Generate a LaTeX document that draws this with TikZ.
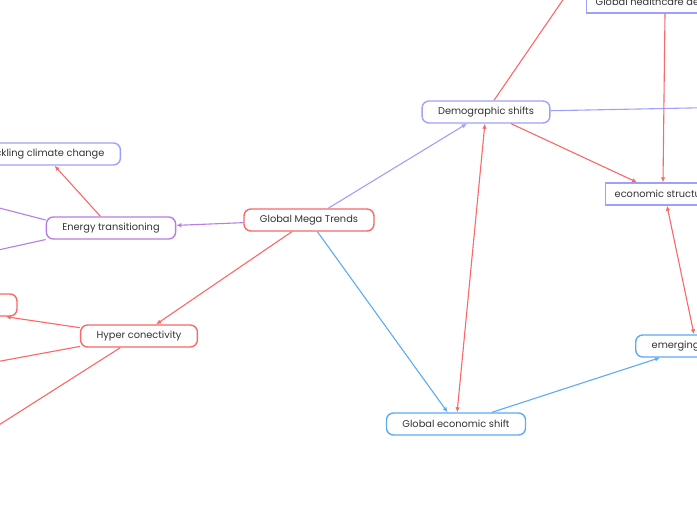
\documentclass[tikz,border=0pt]{standalone}
\usepackage{fontspec}
\setmainfont{Poppins}
\usetikzlibrary{arrows.meta,positioning}
\definecolor{MapRed}{RGB}{250,104,104}
\definecolor{MapLilac}{RGB}{160,160,250}
\definecolor{MapPurple}{RGB}{185,125,228}
\definecolor{MapBlue}{RGB}{92,172,245}
\definecolor{MapText}{RGB}{51,51,51}
\tikzset{
  topic/.style={draw,rounded corners=7pt,line width=1.4pt,fill=white,
    minimum height=22pt,inner xsep=16pt,text=MapText,font=\fontsize{9.8}{12}\selectfont},
  sqtopic/.style={draw,line width=1.4pt,fill=white,
    minimum height=22pt,inner xsep=9pt,text=MapText,font=\fontsize{9.8}{12}\selectfont},
  maplink/.style={line width=1.1pt},
  maparrow/.style={maplink,-{Latex[length=5pt,width=4.5pt]}},
  mapboth/.style={maplink,{Latex[length=5pt,width=4.5pt]}-{Latex[length=5pt,width=4.5pt]}},
}

\begin{document}
\begin{tikzpicture}[x=1pt,y=-1pt]
  \useasboundingbox[fill=white] (0,0) rectangle (697,520);
  % topics
  \node[topic,draw=MapRed] (mega) at (309,220) {Global Mega Trends};
  \node[topic,draw=MapLilac] (demo) at (486,112) {Demographic shifts};
  \node[topic,draw=MapPurple] (energy) at (111,228) {Energy transitioning};
  \node[topic,draw=MapLilac] (tackle) at (44,154) {Tackling climate change};
  \node[topic,draw=MapRed] (hyper) at (139,336) {Hyper conectivity};
  \node[topic,draw=MapRed,minimum width=220pt] (redleft) at (-93,305) {};
  \node[topic,draw=MapBlue] (ges) at (456,424) {Global economic shift};
  \node[topic,draw=MapBlue,anchor=west] (emerg) at (635,346) {emerging markets};
  \node[sqtopic,draw=MapLilac,anchor=west] (econ) at (605,194) {economic structure};
  \node[sqtopic,draw=MapLilac,anchor=west] (health) at (586,2) {Global healthcare demand};
  % free ends
  \coordinate (demoup) at (580,-25);
  \coordinate (demoright) at (740,107);
  \coordinate (energyl1) at (-20,203);
  \coordinate (energyl2) at (-20,254);
  \coordinate (hyperl1) at (-10,363);
  \coordinate (hyperl2) at (-20,437);
  % links
  \draw[maparrow,MapLilac] (mega) -- (demo);
  \draw[maparrow,MapPurple] (mega) -- (energy);
  \draw[maparrow,MapRed] (mega) -- (hyper);
  \draw[maparrow,MapBlue] (mega) -- (ges);
  \draw[maparrow,MapBlue] (ges) -- ([xshift=25pt]emerg.south west);
  \draw[mapboth,MapRed] (demo) -- (ges);
  \draw[maparrow,MapRed] (demo) -- ([xshift=32pt]econ.north west);
  \draw[maplink,MapRed] (demo) -- (demoup);
  \draw[maplink,MapLilac] (demo) -- (demoright);
  \draw[maparrow,MapRed] ([xshift=79pt]health.south west) -- ([xshift=58pt]econ.north west);
  \draw[mapboth,MapRed] ([xshift=62pt]econ.south west) -- ([xshift=59pt]emerg.north west);
  \draw[maparrow,MapRed] (energy) -- (tackle);
  \draw[maplink,MapPurple] (energy.173) -- (energyl1);
  \draw[maplink,MapPurple] (energy.190) -- (energyl2);
  \draw[maparrow,MapRed] (hyper.172) -- ([xshift=-12pt]redleft.south east);
  \draw[maplink,MapRed] (hyper.190) -- (hyperl1);
  \draw[maplink,MapRed] (hyper.212) -- (hyperl2);
\end{tikzpicture}
\end{document}
